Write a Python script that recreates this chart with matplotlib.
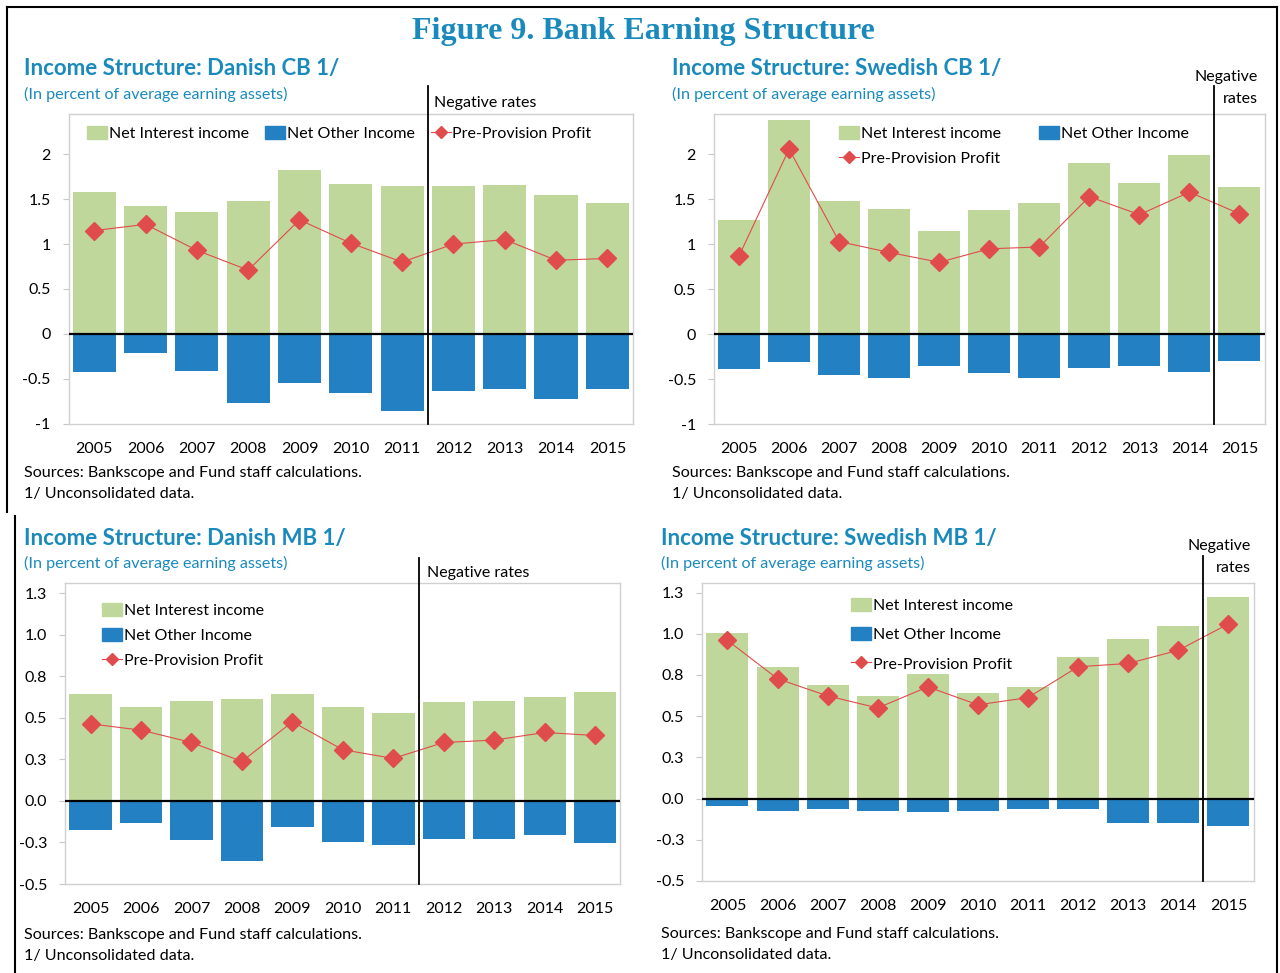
import numpy as np
import matplotlib
matplotlib.use('Agg')
import matplotlib.pyplot as plt
from matplotlib.patches import Patch
from matplotlib.lines import Line2D

plt.rcParams['font.family'] = ['Lato', 'DejaVu Sans']

years = ['2005', '2006', '2007', '2008', '2009', '2010', '2011', '2012', '2013', '2014', '2015']

# Danish commercial banks
dk_cb_nii = [1.58, 1.43, 1.36, 1.48, 1.83, 1.67, 1.65, 1.65, 1.66, 1.55, 1.46]
dk_cb_noi = [-0.43, -0.21, -0.42, -0.77, -0.55, -0.66, -0.86, -0.64, -0.61, -0.73, -0.61]
dk_cb_ppp = [1.15, 1.22, 0.93, 0.71, 1.27, 1.01, 0.80, 1.00, 1.05, 0.82, 0.84]

# Swedish commercial banks
se_cb_nii = [1.27, 2.38, 1.48, 1.39, 1.15, 1.38, 1.46, 1.90, 1.68, 1.99, 1.64]
se_cb_noi = [-0.39, -0.31, -0.45, -0.49, -0.35, -0.43, -0.49, -0.38, -0.35, -0.42, -0.30]
se_cb_ppp = [0.87, 2.06, 1.03, 0.91, 0.80, 0.95, 0.97, 1.53, 1.33, 1.58, 1.34]

# Danish mortgage banks
dk_mb_nii = [0.646, 0.564, 0.60, 0.612, 0.642, 0.564, 0.532, 0.594, 0.604, 0.624, 0.658]
dk_mb_noi = [-0.172, -0.13, -0.236, -0.364, -0.158, -0.248, -0.268, -0.232, -0.232, -0.206, -0.256]
dk_mb_ppp = [0.464, 0.426, 0.352, 0.238, 0.476, 0.308, 0.256, 0.352, 0.366, 0.412, 0.394]

# Swedish mortgage banks
se_mb_nii = [1.006, 0.80, 0.69, 0.62, 0.755, 0.64, 0.676, 0.862, 0.97, 1.049, 1.225]
se_mb_noi = [-0.047, -0.073, -0.065, -0.073, -0.081, -0.077, -0.065, -0.065, -0.15, -0.15, -0.166]
se_mb_ppp = [0.96, 0.727, 0.623, 0.55, 0.678, 0.569, 0.613, 0.80, 0.82, 0.90, 1.06]

cb_ticks = [-1, -0.5, 0, 0.5, 1, 1.5, 2]
cb_labels = ['-1', '-0.5', '0', '0.5', '1', '1.5', '2']
mb_ticks = [-0.5, -0.25, 0, 0.25, 0.5, 0.75, 1.0, 1.25]
mb_labels = ['-0.5', '-0.3', '0.0', '0.3', '0.5', '0.8', '1.0', '1.3']

green = '#bfd79b'
blue = '#2380c2'
red = '#e04c4c'
teal = '#1a8abd'

W, H = 1280, 973
fig = plt.figure(figsize=(W/100, H/100), dpi=100)

def fx(x):
    return x/W
def fy(y):
    return 1-y/H

def add_ax(l, t, r, b):
    return fig.add_axes([fx(l), fy(b), (r-l)/W, (b-t)/H])

def panel(box, nii, noi, ppp, ylim, ticks, labels, neg_x, line_top):
    ax = add_ax(*box)
    x = np.arange(len(years))
    ax.bar(x, nii, width=0.84, color=green, zorder=2)
    ax.bar(x, noi, width=0.84, color=blue, zorder=2)
    ax.plot(x, ppp, color=red, lw=0.8, marker='D', markersize=9, zorder=4)
    ax.axhline(0, color='black', lw=1.6, zorder=3)
    ax.set_xlim(-0.5, len(years)-0.5)
    ax.set_ylim(*ylim)
    ax.set_yticks(ticks)
    ax.set_yticklabels(labels)
    ax.set_xticks(x)
    ax.set_xticklabels(years)
    for s in ax.spines.values():
        s.set_color('#d0d0d0')
        s.set_linewidth(1)
    ax.tick_params(axis='y', length=4, color='#c8c8c8', labelsize=11.5, pad=9)
    ax.tick_params(axis='x', length=0, labelsize=11.5, pad=13)
    # negative rates marker line
    b = box[3]; t = box[1]
    yt = (b-line_top)/(b-t)
    ax.plot([neg_x, neg_x], [0, yt], color='black', lw=1.3,
            transform=ax.get_xaxis_transform(), clip_on=False, zorder=5)
    return ax

def legend(ax, anchor, ncol, handles, labels, spacing, colsp):
    ax.legend(handles, labels, loc='upper left', ncol=ncol,
              bbox_to_anchor=(fx(anchor[0]), fy(anchor[1])), bbox_transform=fig.transFigure,
              frameon=False, fontsize=11.5, borderpad=0, borderaxespad=0,
              handlelength=1.25, handletextpad=0.12, labelspacing=spacing,
              columnspacing=colsp, handleheight=0.9)

h_nii = Patch(color=green)
h_noi = Patch(color=blue)
h_ppp = Line2D([], [], color=red, lw=0.8, marker='D', markersize=6)
l_nii = 'Net Interest income'
l_noi = 'Net Other Income'
l_ppp = 'Pre-Provision Profit'

# titles
fig.text(0.503, fy(31), 'Figure 9. Bank Earning Structure', ha='center', va='center',
         family='Liberation Serif', weight='bold', fontsize=23, color=teal)

def heads(x, y, name):
    fig.text(fx(x), fy(y), 'Income Structure: ' + name + ' 1/', ha='left', va='center',
             weight='bold', fontsize=16, color=teal)
    fig.text(fx(x), fy(y+25), '(In percent of average earning assets)', ha='left', va='center',
             fontsize=11.6, color=teal)

def notes(x, y):
    fig.text(fx(x), fy(y), 'Sources: Bankscope and Fund staff calculations.', ha='left', va='center', fontsize=11.6)
    fig.text(fx(x), fy(y+21), '1/ Unconsolidated data.', ha='left', va='center', fontsize=11.6)

# Danish CB
ax1 = panel((68.6, 114, 633, 423.5), dk_cb_nii, dk_cb_noi, dk_cb_ppp, (-1, 2.45), cb_ticks, cb_labels, 6.5, 86)
legend(ax1, (87, 126), 3, [h_nii, h_noi, h_ppp], [l_nii, l_noi, l_ppp], 0.5, 1.0)
heads(24, 69, 'Danish CB')
fig.text(fx(434), fy(103), 'Negative rates', ha='left', va='center', fontsize=11.5)
notes(24, 473)

# Swedish CB
ax2 = panel((714, 114, 1264.5, 424), se_cb_nii, se_cb_noi, se_cb_ppp, (-1, 2.45), cb_ticks, cb_labels, 9.5, 86)
legend(ax2, (839, 126), 2, [h_nii, h_ppp, h_noi], [l_nii, l_ppp, l_noi], 0.6, 2.4)
heads(672, 69, 'Swedish CB')
fig.text(fx(1258), fy(77), 'Negative', ha='right', va='center', fontsize=11.5)
fig.text(fx(1258), fy(99), 'rates', ha='right', va='center', fontsize=11.5)
notes(672, 473)

# Danish MB
ax3 = panel((65.3, 583.3, 620.4, 884), dk_mb_nii, dk_mb_noi, dk_mb_ppp, (-0.5, 1.31), mb_ticks, mb_labels, 6.5, 558)
legend(ax3, (102, 603), 1, [h_nii, h_noi, h_ppp], [l_nii, l_noi, l_ppp], 0.62, 1.0)
heads(24, 538, 'Danish MB')
fig.text(fx(427), fy(573), 'Negative rates', ha='left', va='center', fontsize=11.5)
notes(24, 935)

# Swedish MB
ax4 = panel((702.4, 582.7, 1253.5, 881), se_mb_nii, se_mb_noi, se_mb_ppp, (-0.5, 1.31), mb_ticks, mb_labels, 9.5, 556)
legend(ax4, (851, 598), 1, [h_nii, h_noi, h_ppp], [l_nii, l_noi, l_ppp], 0.88, 1.0)
heads(661, 538, 'Swedish MB')
fig.text(fx(1251), fy(546), 'Negative', ha='right', va='center', fontsize=11.5)
fig.text(fx(1251), fy(568), 'rates', ha='right', va='center', fontsize=11.5)
notes(661, 934)

# page border lines
fig.add_artist(Line2D([fx(7), fx(1277)], [fy(7), fy(7)], color='black', lw=1.5))
fig.add_artist(Line2D([fx(7), fx(7)], [fy(7), fy(512)], color='black', lw=1.5))
fig.add_artist(Line2D([fx(15), fx(15)], [fy(516), fy(973)], color='black', lw=1.5))
fig.add_artist(Line2D([fx(1277), fx(1277)], [fy(7), fy(973)], color='black', lw=1.5))

fig.savefig('out.png', dpi=100)
